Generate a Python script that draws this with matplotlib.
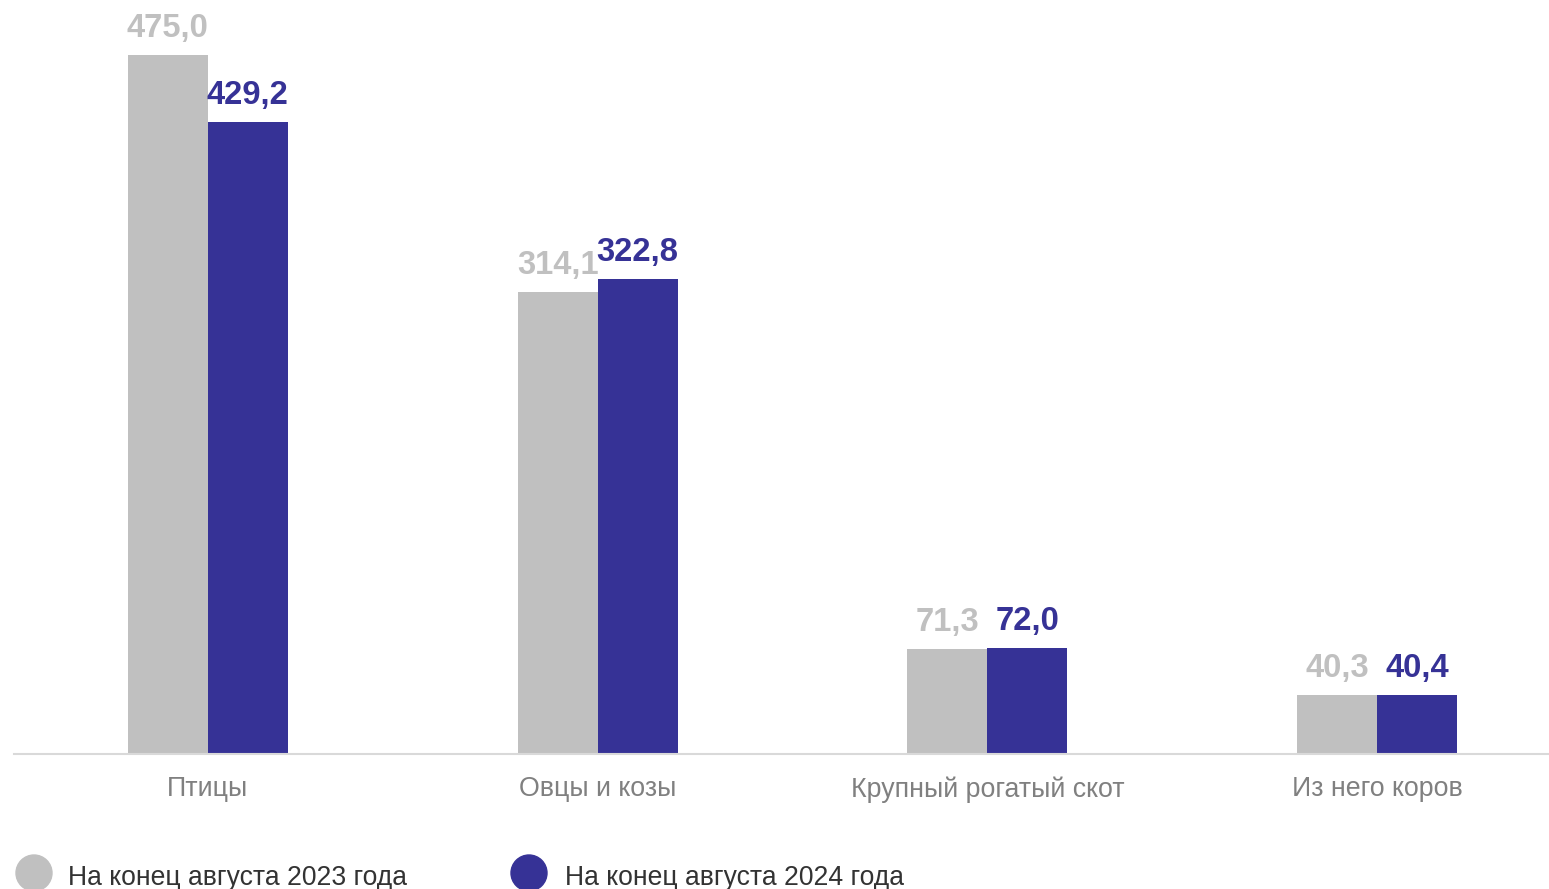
import matplotlib
matplotlib.use("Agg")
import matplotlib.pyplot as plt
from matplotlib.patches import Circle
import numpy as np

categories = ["Птицы", "Овцы и козы", "Крупный рогатый скот", "Из него коров"]
values_2023 = [475.0, 314.1, 71.3, 40.3]
values_2024 = [429.2, 322.8, 72.0, 40.4]
series_names = ["На конец августа 2023 года", "На конец августа 2024 года"]

c_gray = "#c0c0c0"
c_blue = "#363296"

plt.rcParams['font.family'] = ['Liberation Sans', 'DejaVu Sans']

W, H = 1549, 889
dpi = 100
fig = plt.figure(figsize=(W / dpi, H / dpi), dpi=dpi)

# axes in pixel coordinates
ax_left, ax_right = 14, 1549
ax_bottom_px = 754   # from top
ymax = 500
scale = 699 / 475.0  # px per unit
ax_top_px = ax_bottom_px - ymax * scale
ax = fig.add_axes([ax_left / W, (H - ax_bottom_px) / H,
                   (ax_right - ax_left) / W, (ax_bottom_px - ax_top_px) / H])

x = np.arange(len(categories))
bw = 80 / 390.0
ax.bar(x - bw / 2, values_2023, width=bw, color=c_gray, zorder=2)
ax.bar(x + bw / 2, values_2024, width=bw, color=c_blue, zorder=2)

ax.set_xlim(-194 / 390.0, 3 + 172 / 390.0)
ax.set_ylim(0, ymax)

def fmt(v):
    return f"{v:.1f}".replace(".", ",")

for xi, v in zip(x, values_2023):
    ax.annotate(fmt(v), (xi - bw / 2, v), xytext=(0, 18), textcoords="offset pixels",
                ha="center", va="baseline", fontsize=23.6, fontweight="bold", color=c_gray)
for xi, v in zip(x, values_2024):
    ax.annotate(fmt(v), (xi + bw / 2, v), xytext=(0, 18), textcoords="offset pixels",
                ha="center", va="baseline", fontsize=23.6, fontweight="bold", color=c_blue)

for s in ["top", "right", "left"]:
    ax.spines[s].set_visible(False)
ax.spines["bottom"].set_color("#d9d9d9")
ax.spines["bottom"].set_linewidth(1.5)
ax.set_yticks([])
ax.set_xticks(x)
ax.set_xticklabels(categories, fontsize=19.3, color="#808080")
ax.tick_params(axis="x", length=0, pad=16)

# legend
leg_items = [(34, 68, c_gray, series_names[0]), (529, 565, c_blue, series_names[1])]
for cx, tx, col, name in leg_items:
    circ = Circle((cx / dpi, (H - 873) / dpi), 0.18, transform=fig.dpi_scale_trans,
                  color=col, clip_on=False)
    fig.add_artist(circ)
    fig.text(tx / W, (H - 885) / H, name, fontsize=19.1, color="#333333",
             ha="left", va="baseline")

fig.savefig("out.png", dpi=dpi)
